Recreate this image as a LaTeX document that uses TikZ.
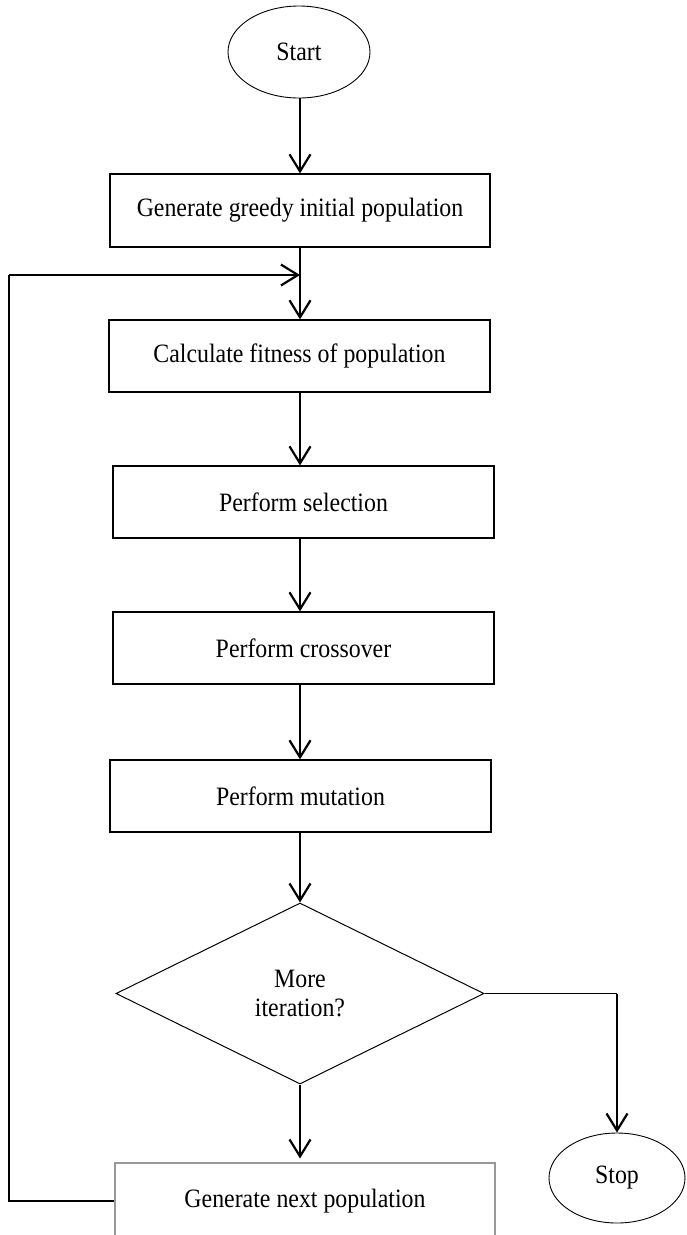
\documentclass[tikz,border=0pt]{standalone}
\usepackage{fontspec}
\setmainfont{Liberation Serif}[FakeStretch=0.9]
\usetikzlibrary{shapes.geometric,arrows.meta}
\begin{document}
\begin{tikzpicture}[x=1pt,y=-1pt,
  every node/.style={font=\fontsize{26.5}{29}\selectfont, inner sep=0pt, align=center},
  procbox/.style={draw, line width=1.2pt, rectangle, minimum width=381pt, minimum height=72pt},
  termnode/.style={draw, line width=0.9pt, ellipse},
  decnode/.style={draw, line width=1pt, diamond, minimum width=368pt, minimum height=181pt},
  arr/.style={line width=2.2pt, -{Straight Barb[length=17pt,width=21pt,line width=2.2pt]}},
  thinline/.style={line width=1.2pt}
]
\clip (0,0) rectangle (686,1235);
\useasboundingbox (0,0) rectangle (686,1235);

\coordinate (X) at (300,0);

\node[termnode, minimum width=142pt, minimum height=92pt] (start) at (299,52) {Start};
\node[procbox, minimum width=380pt, minimum height=73pt] (b1) at (300,210.5) {Generate greedy initial population};
\node[procbox] (b2) at (299.5,356) {Calculate fitness of population};
\node[procbox] (b3) at (303.5,502) {Perform selection};
\node[procbox] (b4) at (303.5,648) {Perform crossover};
\node[procbox] (b5) at (300.5,796) {Perform mutation};
\node[decnode] (dia) at (300,993.5) {More\\iteration?};
\node[procbox, draw=black!40, minimum width=380pt, minimum height=76pt] (b6) at (305,1201) {Generate next population};
\node[termnode, minimum width=136pt, minimum height=90pt] (stop) at (617,1178) {Stop};

\draw[arr] (X |- start.south) -- (X |- b1.north);
\draw[arr] (X |- b1.south) -- (X |- b2.north);
\draw[arr] (X |- b2.south) -- (X |- b3.north);
\draw[arr] (X |- b3.south) -- (X |- b4.north);
\draw[arr] (X |- b4.south) -- (X |- b5.north);
\draw[arr] (X |- b5.south) -- (dia.north);
\draw[arr] (dia.south) -- ++(0,74);

\coordinate (corner) at (9,275);
\coordinate (join) at (300,275);
\draw[thinline] (b6.west) -| (corner);
\draw[arr] (corner) -- (join);

\coordinate (turn) at (dia.east -| stop.north);
\draw[thinline] (dia.east) -- (turn);
\draw[arr] (turn) -- (stop.north);
\end{tikzpicture}
\end{document}
